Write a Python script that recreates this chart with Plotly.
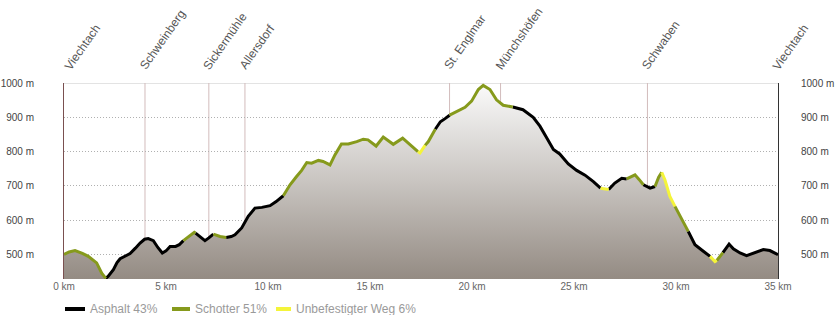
import plotly.graph_objects as go

# ---------------- data ----------------
km = [0.0, 0.25, 0.54, 0.9, 1.19, 1.6, 1.85, 2.0, 2.05, 2.17, 2.42, 2.6, 2.75, 3.0, 3.24,
      3.5, 3.73, 3.95, 4.13, 4.38, 4.6, 4.82, 5.0, 5.2, 5.47, 5.65, 5.85, 6.1, 6.39, 6.45,
      6.62, 6.91, 7.1, 7.32, 7.65, 7.95, 8.2, 8.38, 8.71, 9.03, 9.36, 9.7, 10.1, 10.4, 10.75,
      11.08, 11.4, 11.65, 11.9, 12.14, 12.47, 12.7, 13.04, 13.28, 13.6, 13.94, 14.35, 14.67,
      14.9, 15.3, 15.65, 15.9, 16.14, 16.6, 16.9, 17.2, 17.35, 17.45, 17.7, 17.86, 18.2,
      18.45, 18.68, 18.9, 19.25, 19.66, 19.98, 20.31, 20.55, 20.88, 21.2, 21.53, 22.0, 22.5,
      23.0, 23.33, 23.66, 23.99, 24.3, 24.72, 25.13, 25.54, 25.95, 26.3, 26.7, 27.0, 27.34,
      27.58, 27.99, 28.2, 28.4, 28.73, 28.97, 29.15, 29.3, 29.46, 29.7, 29.95, 30.28, 30.6,
      30.93, 31.34, 31.67, 31.91, 32.0, 32.3, 32.6, 32.81, 33.14, 33.46, 33.87, 34.28, 34.6,
      34.9, 35.0]
elev_m = [500, 507, 511, 503, 494, 475, 445, 431, 430, 436, 455, 476, 487, 494, 502,
          518, 533, 544, 546, 540, 520, 504, 510, 523, 523, 528, 540, 552, 564, 562,
          554, 540, 548, 559, 552, 549, 552, 557, 577, 611, 635, 637, 642, 654, 671,
          703, 727, 745, 768, 766, 774, 771, 761, 790, 822, 822, 829, 836,
          834, 816, 842, 830, 821, 839, 824, 810, 800, 796, 818, 829, 865,
          887, 896, 906, 917, 929, 947, 981, 993, 981, 951, 935, 930, 922,
          900, 874, 840, 806, 793, 764, 745, 731, 712, 693, 689, 708, 722,
          720, 732, 718, 703, 693, 698, 725, 739, 717, 669, 640, 601, 567,
          528, 509, 494, 479, 482, 505, 530, 516, 504, 496, 506, 514, 511,
          501, 499]
# surface of the segment starting at each point: A=Asphalt, S=Schotter, U=Unbefestigter Weg
surface = (["S"] * 8 + ["A"] * 18 + ["S"] * 3 + ["A"] * 4 + ["S"] * 2 + ["A"] * 9 +
           ["S"] * 22 + ["U"] * 2 + ["S"] * 2 + ["A"] * 3 + ["S"] * 9 + ["A"] * 11 +
           ["U"] * 1 + ["A"] * 3 + ["S"] * 3 + ["A"] * 2 + ["S"] * 2 + ["U"] * 3 +
           ["S"] * 2 + ["A"] * 3 + ["U"] * 2 + ["S"] * 1 + ["A"] * 10 + ["A"])

surface_types = ["A", "S", "U"]
surface_labels = ["Asphalt 43%", "Schotter 51%", "Unbefestigter Weg 6%"]
surface_colors = ["#000000", "#869a1c", "#f4f43a"]

waypoint_km = [0.0, 3.97, 7.1, 8.87, 18.9, 21.4, 28.6, 35.0]
waypoint_names = ["Viechtach", "Schweinberg", "Sickermühle", "Allersdorf",
                  "St. Englmar", "Münchshöfen", "Schwaben", "Viechtach"]

x_ticks = [0, 5, 10, 15, 20, 25, 30, 35]
y_ticks = [500, 600, 700, 800, 900, 1000]
y_min, y_max = 428, 1000

# ---------------- figure ----------------
FONT = "Arial, Liberation Sans, sans-serif"
fig = go.Figure()

fig.add_trace(go.Scatter(
    x=km, y=elev_m, mode="lines", line=dict(width=0, color="rgba(0,0,0,0)"),
    fill="tozeroy",
    fillgradient=dict(type="vertical", start=y_min, stop=y_max,
                      colorscale=[[0, "#948b83"], [0.5, "#c9c5c1"], [1, "#fbfbfb"]]),
    hoverinfo="skip", showlegend=False))

n = len(km)
for t, col in zip(surface_types, surface_colors):
    xs, ys = [], []
    prev = False
    for i in range(n - 1):
        if surface[i] == t:
            if not prev:
                if xs:
                    xs.append(None); ys.append(None)
                xs.append(km[i]); ys.append(elev_m[i])
            xs.append(km[i + 1]); ys.append(elev_m[i + 1])
            prev = True
        else:
            prev = False
    fig.add_trace(go.Scatter(x=xs, y=ys, mode="lines",
                             line=dict(color=col, width=3),
                             hoverinfo="skip", showlegend=False))

# invisible trace to activate right axis
fig.add_trace(go.Scatter(x=[0, 35], y=[y_min, y_max], yaxis="y2", mode="markers",
                         marker=dict(opacity=0), hoverinfo="skip", showlegend=False))

# waypoint lines
for wk in waypoint_km[1:-1]:
    fig.add_shape(type="line", xref="x", yref="y", x0=wk, x1=wk, y0=y_min, y1=y_max,
                  line=dict(color="#d2bcbc", width=1), layer="below")
# top border
fig.add_shape(type="line", xref="paper", yref="y", x0=0, x1=1, y0=y_max, y1=y_max,
              line=dict(color="#c8c8c8", width=1), layer="below")

# waypoint labels
for i, (wk, name) in enumerate(zip(waypoint_km, waypoint_names)):
    fig.add_annotation(x=wk, y=1, xref="x", yref="paper", text=name, showarrow=False,
                       textangle=-55, xanchor="left", yanchor="bottom",
                       xshift=-11 + (6 if i == 0 else 0), yshift=8,
                       font=dict(family=FONT, size=12, color="#555555"))

# custom legend
W, L = 714, 64
H, B = 196, 279
def px_x(p):
    return (p - L) / W
def px_y(p):
    return (B - p) / H
legend_sym = [(65, 85), (172, 190), (276, 291)]
for (s0, s1), lab, col in zip(legend_sym, surface_labels, surface_colors):
    fig.add_shape(type="line", xref="paper", yref="paper", x0=px_x(s0), x1=px_x(s1),
                  y0=px_y(309), y1=px_y(309), line=dict(color=col, width=4))
    fig.add_annotation(x=px_x(s1 + 3), y=px_y(309), xref="paper", yref="paper",
                       text=lab, showarrow=False, xanchor="left", yanchor="middle",
                       font=dict(family=FONT, size=12, color="#9a9a9a"))

fig.update_layout(
    width=835, height=315,
    margin=dict(l=64, r=57, t=83, b=36, autoexpand=False),
    paper_bgcolor="white", plot_bgcolor="white",
    showlegend=False,
    xaxis=dict(range=[0, 35], tickvals=x_ticks, ticktext=[f"{v} km" for v in x_ticks],
               showgrid=False, zeroline=False, showline=False, automargin=False,
               tickfont=dict(family=FONT, size=10, color="#666666"), ticks=""),
    yaxis=dict(range=[y_min, y_max], tickvals=y_ticks, ticktext=[f"{v} m" for v in y_ticks],
               showgrid=True, gridcolor="#b0b0b0", griddash="1px,2px", gridwidth=1,
               zeroline=False, showline=True, linecolor="#7a5050", linewidth=1,
               ticks="", ticklabelstandoff=27, automargin=False,
               tickfont=dict(family=FONT, size=10, color="#444444")),
    yaxis2=dict(range=[y_min, y_max], tickvals=y_ticks, ticktext=[f"{v} m" for v in y_ticks],
                overlaying="y", side="right", showgrid=False, zeroline=False,
                showline=True, linecolor="#333333", linewidth=1, automargin=False,
                ticks="", ticklabelstandoff=20,
                tickfont=dict(family=FONT, size=10, color="#444444")),
)

fig.write_html("out.html", config={"displayModeBar": False},
               post_script="document.body.style.margin='0';document.body.style.overflow='hidden';")
